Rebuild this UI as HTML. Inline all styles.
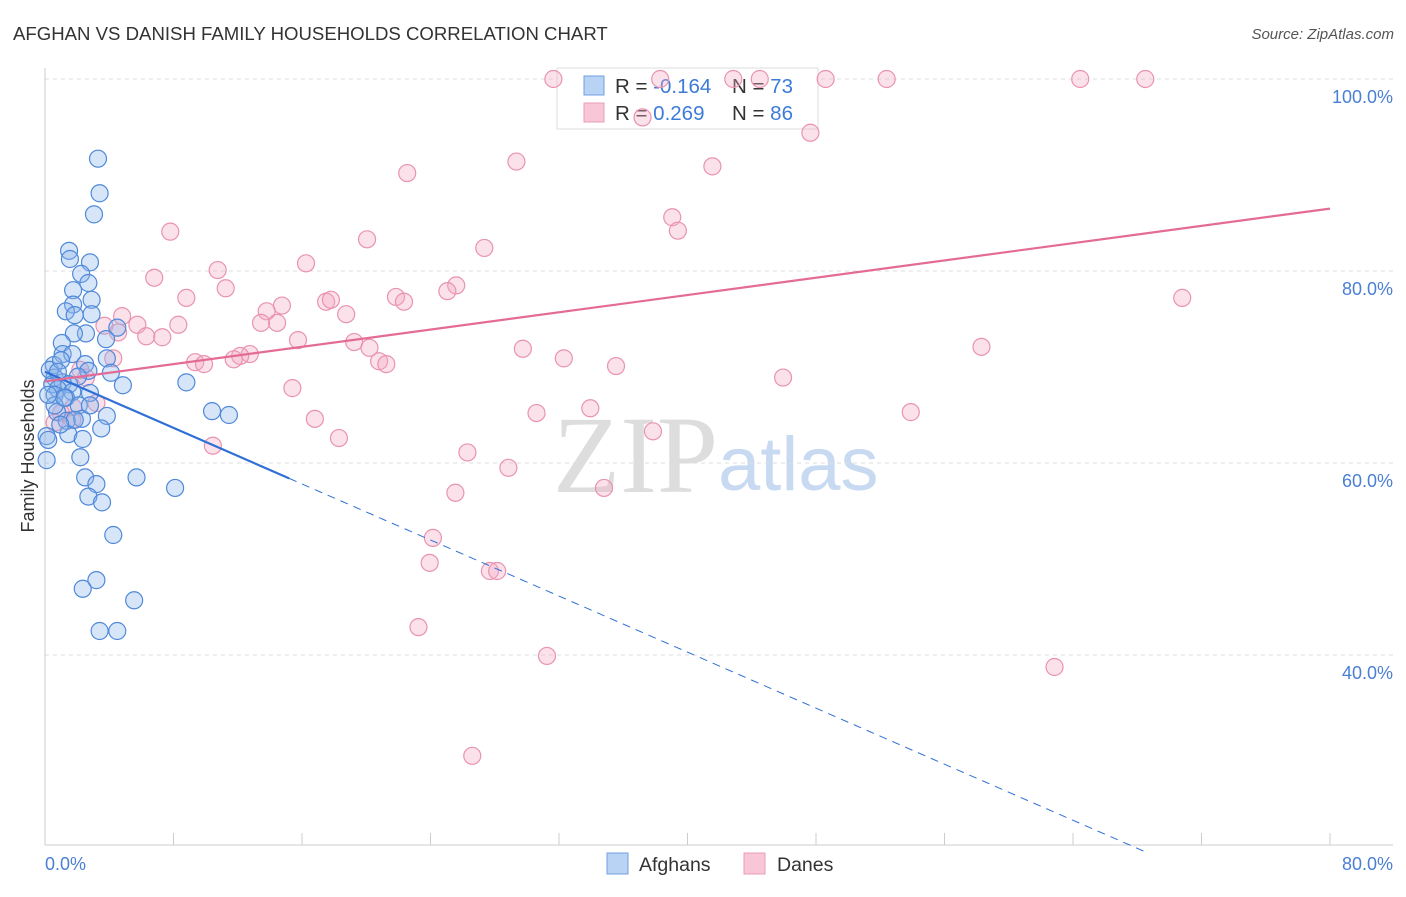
<!DOCTYPE html>
<html><head><meta charset="utf-8"><style>
body{margin:0;background:#fff;font-family:"Liberation Sans",sans-serif}
</style></head><body>
<svg id="chart" width="1406" height="892" xmlns="http://www.w3.org/2000/svg">
<text x="13" y="40" font-size="18.6" fill="#333">AFGHAN VS DANISH FAMILY HOUSEHOLDS CORRELATION CHART</text>
<text x="1394" y="39" font-size="15" fill="#555" text-anchor="end" font-style="italic">Source: ZipAtlas.com</text>
<g>
<text x="553" y="492" font-size="110" fill="#ddd" font-family="Liberation Serif">ZIP</text>
<text x="718" y="490" font-size="76" fill="#c8d9f2">atlas</text>
</g>
<g id="grid"></g>
<g id="axes"></g>
<g>
<rect x="557" y="68" width="261" height="61" fill="#fff" stroke="#ddd"/>
<rect x="584" y="76" width="20" height="19" fill="#b9d3f5" stroke="#6f9fe0"/>
<rect x="584" y="103" width="20" height="19" fill="#f8c6d6" stroke="#ea9cb6"/>
<text x="615" y="93" font-size="20.5" fill="#333">R = <tspan fill="#3d7bd9">-0.164</tspan></text>
<text x="732" y="93" font-size="20.5" fill="#333">N = <tspan fill="#3d7bd9">73</tspan></text>
<text x="615" y="120" font-size="20.5" fill="#333">R = <tspan fill="#3d7bd9"> 0.269</tspan></text>
<text x="732" y="120" font-size="20.5" fill="#333">N = <tspan fill="#3d7bd9">86</tspan></text>
</g>
<g id="marks"></g>
<text transform="translate(34,456) rotate(-90)" font-size="18" fill="#333" text-anchor="middle">Family Households</text>
<text x="45" y="870" font-size="18" fill="#4a7fd4">0.0%</text>
<text x="1393" y="870" font-size="18" fill="#4a7fd4" text-anchor="end">80.0%</text>
<g>
<rect x="607" y="853" width="21" height="21" fill="#b9d3f5" stroke="#6f9fe0"/>
<text x="639" y="871" font-size="19.5" fill="#333">Afghans</text>
<rect x="744" y="853" width="21" height="21" fill="#f8c6d6" stroke="#ea9cb6"/>
<text x="777" y="871" font-size="19.5" fill="#333">Danes</text>
</g>
</svg>
<script>
const yTicks=[40,60,80,100];
const yTickLabels=["40.0%","60.0%","80.0%","100.0%"];
const xTicks=[0,8,16,24,32,40,48,56,64,72,80];
const afghanX=[3.3,3.4,3.05,1.5,1.55,2.8,2.25,2.7,1.75,2.9,1.75,1.3,1.85,2.9,2.55,1.8,4.5,3.8,1.05,1.1,1.7,3.85,0.55,2.5,4.1,2.7,2.05,4.85,0.6,1.1,1.5,8.8,0.45,0.8,2.8,1.7,0.6,1.3,2.1,0.75,10.4,11.45,3.85,2.3,1.35,3.5,1.45,0.1,2.35,0.2,5.7,2.2,0.1,2.5,8.1,3.2,2.7,3.55,4.25,3.2,2.35,5.55,3.4,4.5,0.6,0.3,1.0,1.85,2.8,0.95,1.2,0.2,0.8];
const afghanY=[91.7,88.1,85.9,82.1,81.25,80.9,79.7,78.75,78.0,77.0,76.5,75.8,75.4,75.5,73.5,73.5,74.1,72.9,72.5,71.35,71.35,70.9,70.2,70.3,69.4,69.6,69.0,68.1,68.9,68.4,68.2,68.4,68.2,67.7,67.3,67.4,67.1,66.8,66.0,65.3,65.4,65.0,64.9,64.6,64.4,63.6,63.0,62.8,62.5,62.4,58.5,60.6,60.3,58.5,57.4,57.8,56.5,55.9,52.5,47.8,46.9,45.7,42.5,42.5,66.0,69.7,70.7,64.5,66.0,64.0,66.8,67.1,69.5];
const daneX=[31.65,38.3,42.85,44.5,48.6,52.4,64.45,68.5,37.2,47.65,29.35,41.55,22.55,39.05,39.4,7.8,27.35,20.05,16.25,10.75,6.8,11.25,25.6,25.05,8.8,21.85,22.35,17.5,17.8,70.8,14.75,13.8,18.75,4.8,13.45,14.45,8.3,5.75,3.7,6.3,7.3,4.55,15.75,19.25,20.2,58.3,12.75,12.15,4.25,29.75,9.35,9.9,11.75,20.8,21.25,32.3,35.55,45.95,15.4,2.55,1.75,3.2,1.0,0.6,1.7,30.6,33.95,53.9,16.8,18.3,10.45,37.85,26.3,28.85,25.55,34.8,24.15,23.95,27.7,28.15,23.25,31.25,62.85,26.6,2.2];
const daneY=[100,100,100,100,100,100,100,100,96.0,94.4,91.4,90.9,90.2,85.6,84.2,84.1,82.4,83.3,80.8,80.1,79.3,78.2,78.5,77.9,77.2,77.3,76.8,76.8,77.0,77.2,76.4,75.8,75.5,75.3,74.6,74.6,74.4,74.4,74.3,73.2,73.1,73.6,72.8,72.6,72.0,72.1,71.35,71.15,70.9,71.9,70.5,70.3,70.8,70.6,70.3,70.9,70.1,68.9,67.8,68.9,65.8,66.25,65.2,64.2,64.5,65.2,65.7,65.3,64.6,62.6,61.8,63.3,61.1,59.5,56.9,57.4,52.2,49.6,48.75,48.75,42.9,39.9,38.75,29.5,69.7];
const afghanTrend=[[0,69.5],[15.2,58.4],[68.5,19.5]];
const daneTrend=[[0,68.5],[80,86.5]];

const X0=45,X1=1330,Y100=79,PXY=9.6;
const sx=v=>X0+v*(X1-X0)/80;
const sy=v=>Y100+(100-v)*PXY;
const NS="http://www.w3.org/2000/svg";
function mk(tag,attrs,parent){const e=document.createElementNS(NS,tag);for(const k in attrs)e.setAttribute(k,attrs[k]);parent.appendChild(e);return e;}
const grid=document.getElementById('grid'),axes=document.getElementById('axes'),marks=document.getElementById('marks');
yTicks.forEach((t,i)=>{
  const l=mk('line',{x1:X0,x2:1393,y1:sy(t),y2:sy(t),stroke:'#ddd','stroke-dasharray':'4,4'},grid);
  
  
  const tx=mk('text',{x:1393,y:sy(t)+24,'font-size':18,fill:'#4a7fd4','text-anchor':'end'},grid);
  tx.textContent=yTickLabels[i];
  
  
});
let a=mk('line',{x1:X0,x2:X0,y1:68,y2:845,stroke:'#ccc'},axes);


a=mk('line',{x1:X0,x2:1393,y1:845,y2:845,stroke:'#ccc'},axes);


xTicks.forEach(t=>{
  const l=mk('line',{x1:sx(t),x2:sx(t),y1:833,y2:845,stroke:'#ccc'},axes);
  
  
});
function dots(xs,ys,fill,stroke,name){
  xs.forEach((v,i)=>{
    const c=mk('circle',{cx:sx(v),cy:sy(ys[i]),r:8.5,fill:fill,stroke:stroke,'stroke-width':1.2},marks);
    
    
  });
}
dots(daneX,daneY,'rgba(244,170,195,0.35)','#e993b0','dane-point');
dots(afghanX,afghanY,'rgba(140,180,235,0.35)','#4f89da','afghan-point');
let t=mk('line',{x1:sx(afghanTrend[0][0]),y1:sy(afghanTrend[0][1]),x2:sx(afghanTrend[1][0]),y2:sy(afghanTrend[1][1]),stroke:'#2f6fd6','stroke-width':2.2},marks);


t=mk('line',{x1:sx(afghanTrend[1][0]),y1:sy(afghanTrend[1][1]),x2:sx(afghanTrend[2][0]),y2:sy(afghanTrend[2][1]),stroke:'#2f6fd6','stroke-width':1,'stroke-dasharray':'8,6'},marks);


t=mk('line',{x1:sx(daneTrend[0][0]),y1:sy(daneTrend[0][1]),x2:sx(daneTrend[1][0]),y2:sy(daneTrend[1][1]),stroke:'#e46b96','stroke-width':2.2},marks);


</script>
</body></html>
